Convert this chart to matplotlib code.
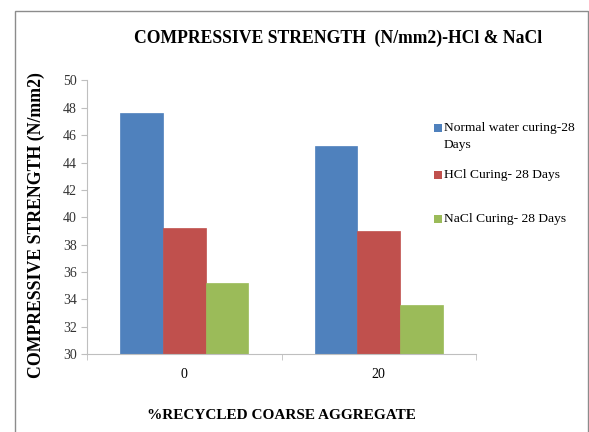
import matplotlib
matplotlib.use('Agg')
from matplotlib import pyplot as plt
from matplotlib.patches import Rectangle
import numpy as np

plt.rcParams['font.family'] = ['Liberation Serif', 'DejaVu Serif']

categories = ['0', '20']
series_names = ['Normal water curing-28\nDays', 'HCl Curing- 28 Days', 'NaCl Curing- 28 Days']
normal_water = [47.6, 45.2]
hcl = [39.2, 39.0]
nacl = [35.2, 33.6]
colors = ['#4F81BD', '#C0504D', '#9BBB59']
y_ticks = np.arange(30, 51, 2)

W, H = 589, 432
fig = plt.figure(figsize=(5.89, 4.32), dpi=100)
ax = fig.add_axes([0.148, 0.180, 0.660, 0.634])

x = np.arange(len(categories))
width = 0.22
for i, (vals, name) in enumerate(zip([normal_water, hcl, nacl], series_names)):
    ax.bar(x + (i - 1) * width, vals, width, color=colors[i], label=name,
           edgecolor=colors[i], linewidth=0.5)

ax.set_ylim(30, 50)
ax.set_xlim(-0.5, 1.5)
ax.set_yticks(y_ticks)
ax.set_xticks(x)
ax.set_xticklabels(categories)
ax.set_xticks([-0.5, 0.5, 1.5], minor=True)
ax.tick_params(axis='x', which='major', length=0, pad=10, labelsize=10)
ax.tick_params(axis='x', which='minor', length=4, color='#bfbfbf')
ax.tick_params(axis='y', length=4, color='#bfbfbf', labelsize=10, labelcolor='#333333')

for s in ['top', 'right']:
    ax.spines[s].set_visible(False)
for s in ['left', 'bottom']:
    ax.spines[s].set_color('#bfbfbf')
    ax.spines[s].set_linewidth(0.8)

ax.set_xlabel('%RECYCLED COARSE AGGREGATE', fontsize=11, fontweight='bold', labelpad=20)
fig.text(0.062, 0.478, 'COMPRESSIVE STRENGTH (N/mm2)', rotation=90, fontsize=12.8,
         fontweight='bold', ha='center', va='center')
fig.text(0.574, 0.912, 'COMPRESSIVE STRENGTH  (N/mm2)-HCl & NaCl', fontsize=12.7,
         fontweight='bold', ha='center', va='center')

# legend, laid out like the Excel one (handle next to the first line)
leg_rows = [128, 175, 219]
for name, c, yy in zip(series_names, colors, leg_rows):
    fig.patches.append(Rectangle((434 / W, 1 - (yy + 4) / H), 8 / W, 8 / H,
                                 transform=fig.transFigure, facecolor=c,
                                 edgecolor='none'))
    fig.text(444 / W, 1 - yy / H, name.split('\n')[0], fontsize=9.7,
             ha='left', va='center')
    if '\n' in name:
        fig.text(444 / W, 1 - (yy + 17) / H, name.split('\n')[1], fontsize=9.7,
                 ha='left', va='center')

# outer chart frame
fig.patches.append(Rectangle((15 / W, -0.1), 573 / W, 1.1 - 11 / H,
                             transform=fig.transFigure, fill=False,
                             edgecolor='#8c8c8c', linewidth=1))

plt.savefig('out.png')
plt.close()
